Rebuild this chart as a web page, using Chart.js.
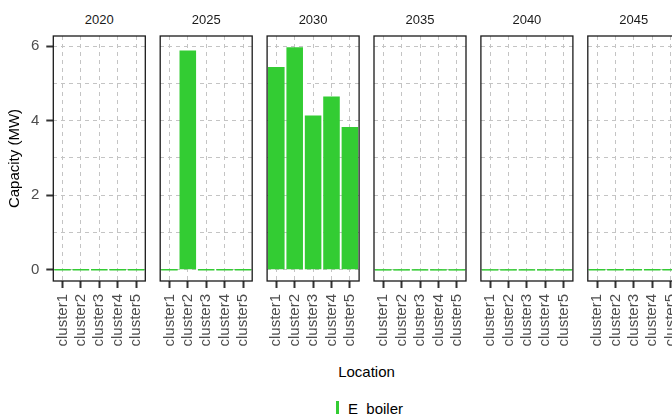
<!DOCTYPE html>
<html>
<head>
<meta charset="utf-8">
<script src="https://cdn.jsdelivr.net/npm/chart.js@4"></script>
<style>
  body { margin: 0; background: #fff; }
  #wrap { position: relative; width: 672px; height: 415px; overflow: hidden; background: #fff;
          font-family: "Liberation Sans", Arial, sans-serif; }
  canvas { position: absolute; left: 0; top: 0; }
  .strip { position: absolute; top: 13px; width: 92px; text-align: center; font-size: 13px;
           line-height: 13px; color: #1a1a1a; white-space: nowrap; }
  #xtitle { position: absolute; top: 364px; left: 0; width: 733px; text-align: center;
            font-size: 15px; line-height: 15px; color: #000; }
  #legend { position: absolute; top: 401px; left: 336px; font-size: 15px; line-height: 15px;
            color: #000; white-space: pre; }
  #legend .key { position: absolute; left: 0; top: 0; width: 3px; height: 13px; background: #33CC33; }
  #legend .lab { position: absolute; left: 12px; top: 0; }
</style>
</head>
<body>
<div id="wrap">
  <div id="xtitle">Location</div>
  <div id="legend"><span class="key"></span><span class="lab">E  boiler</span></div>
</div>
<script>
// data
const years = ["2020", "2025", "2030", "2035", "2040", "2045"];
const clusters = ["cluster1", "cluster2", "cluster3", "cluster4", "cluster5"];
const cap2020 = [0, 0, 0, 0, 0];
const cap2025 = [0, 5.88, 0, 0, 0];
const cap2030 = [5.44, 5.97, 4.14, 4.65, 3.83];
const cap2035 = [0, 0, 0, 0, 0];
const cap2040 = [0, 0, 0, 0, 0];
const cap2045 = [0, 0, 0, 0, 0];
const yGridValues = [0, 1, 2, 3, 4, 5, 6];
const yTickLabels = ["0", "2", "4", "6"];

const capacity = [cap2020, cap2025, cap2030, cap2035, cap2040, cap2045];

// facet layout (pixels)
const canvasW = 700, canvasH = 415;
const panelLeft0 = 53.3, panelStep = 106.9, panelW = 92;
const panelTop = 36, panelBottom = 281;
const fontFamily = '"Liberation Sans", Arial, sans-serif';
const green = "#33CC33";
const gridColor = "#c4c4c4";

// ggplot-like expansion of 5% on the y range
const maxVal = Math.max(...capacity.flat());
const yMin = -0.05 * maxVal;
const yMax = maxVal * 1.05;

const panelBorder = {
  id: "panelBorder",
  afterDraw(chart) {
    const { ctx, chartArea: a } = chart;
    ctx.save();
    ctx.strokeStyle = "#1a1a1a";
    ctx.lineWidth = 1.3;
    ctx.strokeRect(a.left, a.top, a.right - a.left, a.bottom - a.top);
    ctx.restore();
  }
};

const wrap = document.getElementById("wrap");

years.forEach((year, i) => {
  const first = i === 0;
  const left = panelLeft0 + panelStep * i;

  const strip = document.createElement("div");
  strip.className = "strip";
  strip.style.left = left + "px";
  strip.textContent = year;
  wrap.appendChild(strip);

  const canvas = document.createElement("canvas");
  canvas.width = canvasW;
  canvas.height = canvasH;
  canvas.style.width = canvasW + "px";
  canvas.style.height = canvasH + "px";
  wrap.appendChild(canvas);

  new Chart(canvas, {
    type: "bar",
    data: {
      labels: clusters,
      datasets: [
        {
          label: "E  boiler",
          data: capacity[i],
          backgroundColor: green,
          borderWidth: 0,
          barPercentage: 0.9,
          categoryPercentage: 1,
          minBarLength: 1.5
        }
      ]
    },
    options: {
      responsive: false,
      animation: false,
      devicePixelRatio: 1,
      layout: {
        padding: {
          left: first ? 0 : left,
          right: canvasW - left - panelW,
          top: panelTop,
          bottom: 0
        }
      },
      plugins: {
        legend: { display: false },
        tooltip: { enabled: false }
      },
      scales: {
        x: {
          offset: true,
          afterFit: (s) => { s.height = canvasH - panelBottom; },
          ticks: {
            autoSkip: false,
            minRotation: 90,
            maxRotation: 90,
            padding: 6,
            color: "#4d4d4d",
            font: { size: 15, family: fontFamily }
          },
          grid: {
            offset: false,
            color: gridColor,
            lineWidth: 1,
            tickLength: 7,
            tickWidth: 2,
            tickColor: "#333"
          },
          border: { display: false, dash: [4, 4] }
        },
        y: {
          min: yMin,
          max: yMax,
          afterBuildTicks: (s) => { s.ticks = yGridValues.map((v) => ({ value: v })); },
          afterFit: (s) => { s.width = first ? left : 0; },
          ticks: {
            display: first,
            padding: 7,
            color: "#4d4d4d",
            font: { size: 15, family: fontFamily },
            callback: (v) => (yTickLabels.includes(String(v)) ? v : "")
          },
          grid: {
            color: gridColor,
            lineWidth: 1,
            drawTicks: first,
            tickLength: 7,
            tickWidth: 2,
            tickColor: (c) => (c.tick && c.tick.value % 2 === 0 ? "#333" : "rgba(0,0,0,0)")
          },
          border: { display: false, dash: [4, 4] },
          title: {
            display: first,
            text: "Capacity (MW)",
            color: "#000",
            font: { size: 15, family: fontFamily },
            padding: { top: 6, bottom: 0 }
          }
        }
      }
    },
    plugins: [panelBorder]
  });
});
</script>
</body>
</html>
